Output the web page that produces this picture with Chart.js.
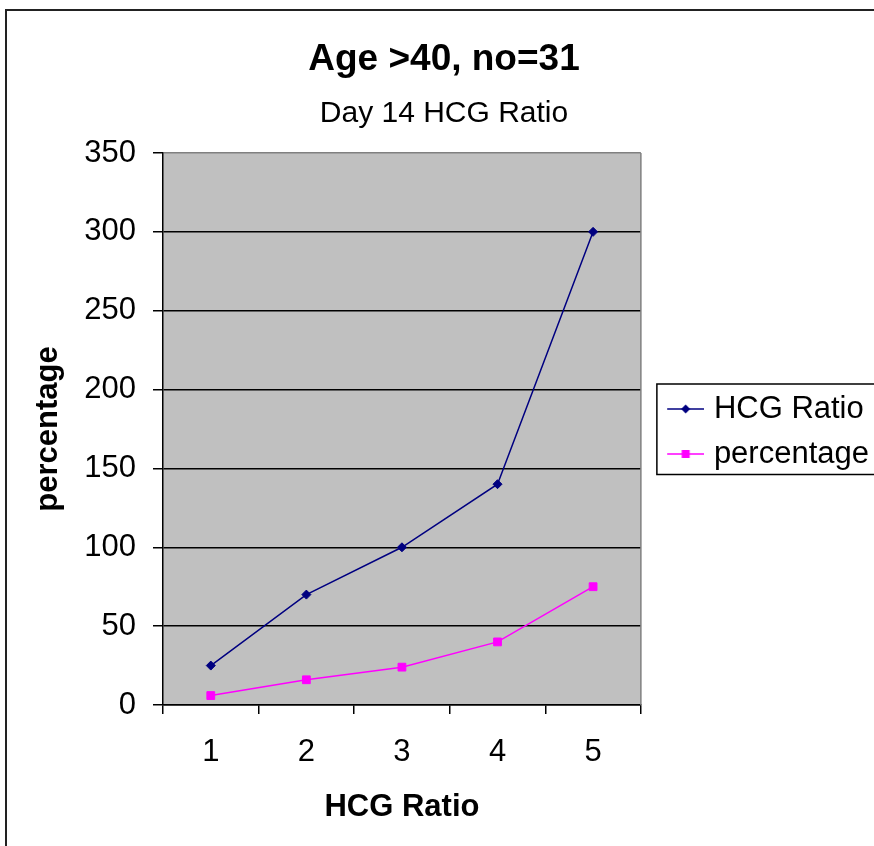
<!DOCTYPE html>
<html>
<head>
<meta charset="utf-8">
<title>Age >40, no=31</title>
<script src="https://cdn.jsdelivr.net/npm/chart.js@4.4.1/dist/chart.umd.min.js"></script>
<style>
  html, body { margin: 0; padding: 0; background: #fff; overflow: hidden; width: 874px; height: 846px; }
  #frame { position: absolute; left: 5px; top: 9px; width: 1000px; height: 1000px; border: 2px solid #222; }
  #box { position: absolute; left: 0; top: 0; width: 888px; height: 863px; }
</style>
</head>
<body>
<div id="frame"></div>
<div id="box"><canvas id="hcgChart"></canvas></div>
<script>
const ratioLabels = ["1", "2", "3", "4", "5"];
const hcgRatio = [25, 70, 100, 140, 300];
const percentage = [6, 16, 24, 40, 75];
const yMin = 0, yMax = 350, yStep = 50;

let padLeft = 0;

Chart.defaults.font.family = '"Liberation Sans", Arial, sans-serif';
Chart.defaults.color = "#000";

// small line+marker pictures for the legend, like Excel draws them
function legendIcon(color, shape) {
  const c = document.createElement("canvas");
  c.width = 55;
  c.height = 14;
  const g = c.getContext("2d");
  g.strokeStyle = color;
  g.fillStyle = color;
  g.lineWidth = 1.5;
  g.beginPath();
  g.moveTo(18, 7);
  g.lineTo(55, 7);
  g.stroke();
  if (shape === "diamond") {
    g.beginPath();
    g.moveTo(36.5, 2.5);
    g.lineTo(41, 7);
    g.lineTo(36.5, 11.5);
    g.lineTo(32, 7);
    g.closePath();
    g.fill();
  } else {
    g.fillRect(32.5, 3, 8, 8);
  }
  return c;
}
const icons = [legendIcon("#000080", "diamond"), legendIcon("#FF00FF", "square")];

const plotFrame = {
  id: "plotFrame",
  beforeDraw(chart) {
    const { ctx, chartArea: a } = chart;
    ctx.save();
    ctx.fillStyle = "#C0C0C0";
    ctx.fillRect(a.left, a.top, a.right - a.left, a.bottom - a.top);
    ctx.restore();
  },
  beforeDatasetsDraw(chart) {
    const { ctx, chartArea: a } = chart;
    ctx.save();
    ctx.strokeStyle = "#808080";
    ctx.lineWidth = 1.5;
    ctx.beginPath();
    ctx.moveTo(a.right, a.top);
    ctx.lineTo(a.right, a.bottom);
    ctx.stroke();
    ctx.restore();
  },
  afterDraw(chart) {
    const hb = chart.legend.legendHitBoxes;
    if (!hb || !hb.length) return;
    const first = hb[0], last = hb[hb.length - 1];
    const top = first.top - 9.5;
    const bottom = last.top + last.height + 5;
    const ctx = chart.ctx;
    ctx.save();
    ctx.strokeStyle = "#000";
    ctx.lineWidth = 1.5;
    ctx.strokeRect(first.left + 2, top, chart.width, bottom - top);
    ctx.restore();
  }
};

const chart = new Chart(document.getElementById("hcgChart"), {
  type: "line",
  data: {
    labels: ratioLabels,
    datasets: [
      {
        label: "HCG Ratio",
        data: hcgRatio,
        borderColor: "#000080",
        backgroundColor: "#000080",
        borderWidth: 1.5,
        pointStyle: "rectRot",
        pointRadius: 4.5,
        pointBorderWidth: 1,
        tension: 0,
        fill: false
      },
      {
        label: "percentage",
        data: percentage,
        borderColor: "#FF00FF",
        backgroundColor: "#FF00FF",
        borderWidth: 1.5,
        pointStyle: "rect",
        pointRadius: 5.5,
        pointBorderWidth: 1,
        tension: 0,
        fill: false
      }
    ]
  },
  options: {
    responsive: true,
    maintainAspectRatio: false,
    animation: false,
    layout: { padding: { left: 0, top: 0, right: 0, bottom: 0 } },
    plugins: {
      title: {
        display: true,
        text: "Age >40, no=31",
        color: "#000",
        font: { size: 37, weight: "bold" },
        padding: { top: 37.8, bottom: 0 }
      },
      subtitle: {
        display: true,
        text: "Day 14 HCG Ratio",
        color: "#000",
        font: { size: 30 },
        padding: { top: 13.1, bottom: 21.7 }
      },
      legend: {
        position: "right",
        maxWidth: 400,
        labels: {
          usePointStyle: true,
          pointStyleWidth: 43.5,
          padding: 14,
          color: "#000",
          font: { size: 31 },
          generateLabels(c) {
            const items = Chart.defaults.plugins.legend.labels.generateLabels(c);
            items.forEach((it, i) => { it.pointStyle = icons[i]; });
            return items;
          }
        }
      },
      tooltip: { enabled: false }
    },
    scales: {
      x: {
        offset: true,
        ticks: { padding: 20, font: { size: 31 }, maxRotation: 0 },
        grid: { offset: true, drawOnChartArea: false, tickLength: 9, color: "#000", lineWidth: 1.5 },
        border: { color: "#000", width: 1.5 },
        title: {
          display: true,
          text: "HCG Ratio",
          font: { size: 31, weight: "bold" },
          padding: { top: 0, bottom: 37.4 }
        },
        afterFit(s) { s.height = 158; }
      },
      y: {
        min: yMin,
        max: yMax,
        ticks: { stepSize: yStep, padding: 17, font: { size: 31 } },
        grid: {
          color: (c) => (c.tick && c.tick.value === yMax ? "#808080" : "#000"),
          lineWidth: 1.5,
          tickLength: 10,
          tickColor: "#000"
        },
        border: { color: "#000", width: 1.5 },
        title: {
          display: true,
          text: "percentage",
          font: { size: 31, weight: "bold" },
          padding: { top: 29.7, bottom: 0 }
        },
        afterFit(s) { s.width = 163 - padLeft; }
      }
    }
  },
  plugins: [plotFrame]
});

// put the plot's right edge at 641 and keep the titles centred on the frame
const fullW = Math.round(641 + chart.legend.width);
padLeft = 888 - fullW;
chart.options.layout.padding = { left: padLeft, top: 0, right: 0, bottom: 0 };
chart.options.scales.y.title.padding = { top: 29.7 - padLeft, bottom: 0 };
document.getElementById("box").style.width = fullW + "px";
chart.resize();
chart.update();
</script>
</body>
</html>
